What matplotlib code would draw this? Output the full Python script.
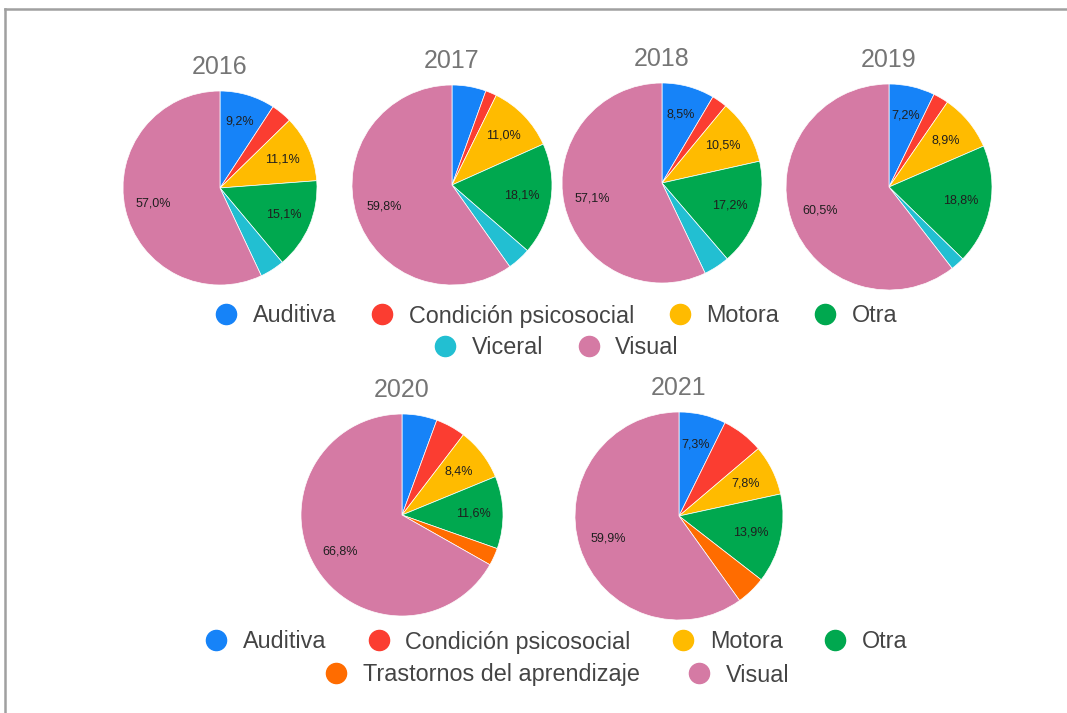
import matplotlib
matplotlib.use('Agg')
import matplotlib.pyplot as plt
from matplotlib.lines import Line2D

plt.rcParams['font.family'] = ['Liberation Sans', 'DejaVu Sans']

W, H = 1067, 713

# ─── Data (percent, clockwise from 12 o'clock) ────────────────────────────────
cats_top = ['Auditiva', 'Condición psicosocial', 'Motora', 'Otra', 'Viceral', 'Visual']
cats_bot = ['Auditiva', 'Condición psicosocial', 'Motora', 'Otra',
            'Trastornos del aprendizaje', 'Visual']

years_top = ['2016', '2017', '2018', '2019']
vals_2016 = [9.2, 3.5, 11.1, 15.1, 4.1, 57.0]
vals_2017 = [5.5, 1.8, 11.0, 18.1, 3.8, 59.8]
vals_2018 = [8.5, 2.5, 10.5, 17.2, 4.2, 57.1]
vals_2019 = [7.2, 2.4, 8.9, 18.8, 2.2, 60.5]

years_bot = ['2020', '2021']
vals_2020 = [5.6, 4.8, 8.4, 11.6, 2.8, 66.8]
vals_2021 = [7.3, 6.5, 7.8, 13.9, 4.6, 59.9]

col = {
    'Auditiva': '#1683f8',
    'Condición psicosocial': '#fb3d31',
    'Motora': '#ffbb00',
    'Otra': '#00a84f',
    'Viceral': '#22bfd2',
    'Visual': '#d57aa4',
    'Trastornos del aprendizaje': '#ff6c00',
}

fig = plt.figure(figsize=(W/100, H/100), dpi=100)
fig.patch.set_facecolor('white')

# frame (top + left edge of the screenshot)
fig.add_artist(Line2D([5/W, 1], [1-9/H, 1-9/H], transform=fig.transFigure,
                      color='#a0a0a0', lw=1.8))
fig.add_artist(Line2D([5/W, 5/W], [0, 1-9/H], transform=fig.transFigure,
                      color='#a0a0a0', lw=1.8))


def fmt(p):
    if p < 7:
        return ''
    return f'{p:.1f}'.replace('.', ',') + '%'


def add_pie(cx, cy, r, year, vals, cats):
    s = 1.25
    ax = fig.add_axes([(cx - r*s)/W, 1 - (cy + r*s)/H, 2*r*s/W, 2*r*s/H])
    ax.pie(vals, colors=[col[c] for c in cats], startangle=90, counterclock=False,
           autopct=fmt, pctdistance=0.71,
           wedgeprops=dict(edgecolor='white', linewidth=0.5),
           textprops=dict(fontsize=9, color='#1f1f1f'))
    ax.set_xlim(-s, s)
    ax.set_ylim(-s, s)
    fig.text(cx/W, 1 - (cy - r - 12)/H, year, ha='center', va='bottom',
             fontsize=18, color='#757575')


# ─── Pies ─────────────────────────────────────────────────────────────────────
top_pos = [(220, 188, 97), (452, 185, 100), (662, 183, 100), (889, 187, 103)]
for (cx, cy, r), y, v in zip(top_pos, years_top,
                             [vals_2016, vals_2017, vals_2018, vals_2019]):
    add_pie(cx, cy, r, y, v, cats_top)

bot_pos = [(402, 515, 101), (679, 516, 104)]
for (cx, cy, r), y, v in zip(bot_pos, years_bot, [vals_2020, vals_2021]):
    add_pie(cx, cy, r, y, v, cats_bot)


# ─── Legends (centered rows) ──────────────────────────────────────────────────
def leg_row(cats, x, y, cs=1.45):
    hs = [Line2D([], [], marker='o', ls='', markersize=14.5,
                 markerfacecolor=col[c], markeredgecolor=col[c]) for c in cats]
    lg = fig.legend(hs, cats, loc='center', bbox_to_anchor=(x/W, 1 - y/H),
                    ncol=len(cats), frameon=False, borderpad=0, fontsize=16.8,
                    handlelength=1.0, handletextpad=0.65, columnspacing=cs,
                    labelcolor='#444444')
    return lg


leg_row(cats_top[:4], 556, 316)
leg_row(cats_top[4:], 556, 348)
leg_row(cats_bot[:4], 556, 642, cs=1.75)
leg_row(cats_bot[4:], 557, 675, cs=2.05)

plt.savefig('out.png', dpi=100, facecolor='white')
print("Saved: out.png")
